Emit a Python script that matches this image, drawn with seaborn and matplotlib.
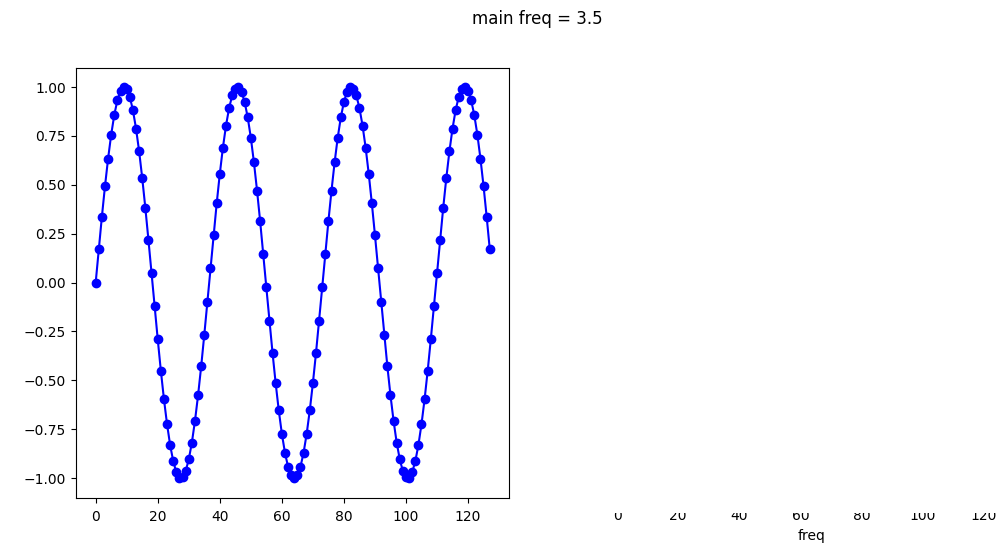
import matplotlib
matplotlib.use("Agg")
import matplotlib.pyplot as plt
import seaborn as sns
import numpy as np
import pandas as pd
import io

sample_index = list(range(128))
signal_values = [
    0.000, 0.171, 0.337, 0.493, 0.634, 0.757, 0.858, 0.933, 0.981, 1.000,
    0.989, 0.950, 0.882, 0.788, 0.672, 0.535, 0.383, 0.219, 0.049, -0.122,
    -0.290, -0.450, -0.596, -0.724, -0.831, -0.914, -0.970, -0.997, -0.995, -0.964,
    -0.904, -0.818, -0.707, -0.576, -0.428, -0.267, -0.098, 0.074, 0.243, 0.405,
    0.556, 0.690, 0.803, 0.893, 0.957, 0.992, 0.999, 0.976, 0.924, 0.845,
    0.741, 0.615, 0.471, 0.314, 0.147, -0.025, -0.195, -0.360, -0.514, -0.653,
    -0.773, -0.870, -0.942, -0.985, -1.000, -0.985, -0.942, -0.870, -0.773, -0.653,
    -0.514, -0.360, -0.195, -0.025, 0.147, 0.314, 0.471, 0.615, 0.741, 0.845,
    0.924, 0.976, 0.999, 0.992, 0.957, 0.893, 0.803, 0.690, 0.556, 0.405,
    0.243, 0.074, -0.098, -0.267, -0.428, -0.576, -0.707, -0.818, -0.904, -0.964,
    -0.995, -0.997, -0.970, -0.914, -0.831, -0.724, -0.596, -0.450, -0.290, -0.122,
    0.049, 0.219, 0.383, 0.535, 0.672, 0.788, 0.882, 0.950, 0.989, 1.000,
    0.981, 0.933, 0.858, 0.757, 0.634, 0.493, 0.337, 0.171,
]
left_yticks = [-1.00, -0.75, -0.50, -0.25, 0.00, 0.25, 0.50, 0.75, 1.00]
right_xticks = [0, 20, 40, 60, 80, 100, 120]
title_text = "main freq = 3.5"
right_xlabel = "freq"

df = pd.DataFrame({"n": sample_index, "v": signal_values})

fig = plt.figure(figsize=(9.97, 5.44), dpi=100)

ax = fig.add_axes([0.0762, 0.0851, 0.4348, 0.7908])
sns.lineplot(data=df, x="n", y="v", ax=ax, color="blue", marker="o",
             markersize=6, markeredgecolor="blue", markeredgewidth=1,
             linewidth=1.5)
ax.set_xlabel("")
ax.set_ylabel("")
ax.set_yticks(left_yticks)
ax.set_ylim(-1.1, 1.1)
ax.set_xlim(-6.35, 133.35)
ax.tick_params(axis="x", pad=5.3)

# right axes: only its (partly hidden) x tick labels and xlabel remain visible
ax2 = fig.add_axes([0.5994, 0.0862, 0.4283, 0.70])
ax2.set_xlim(ax.get_xlim())
ax2.set_xticks(right_xticks)
ax2.set_yticks([])
ax2.tick_params(axis="x", pad=5.3)
for s in ax2.spines.values():
    s.set_visible(False)
ax2.patch.set_visible(False)
ax2.set_xlabel(right_xlabel)

# cover that hides the upper part of the right axis labels
cover = fig.add_axes([0.55, 31 / 544, 0.45, (480 - 31) / 544])
cover.set_xticks([])
cover.set_yticks([])
for s in cover.spines.values():
    s.set_visible(False)
cover.set_facecolor("white")
cover.set_zorder(10)

fig.text(537 / 997, 1 - 19 / 544, title_text, ha="center", va="center", fontsize=12)

fig.savefig("out.png", dpi=100)
